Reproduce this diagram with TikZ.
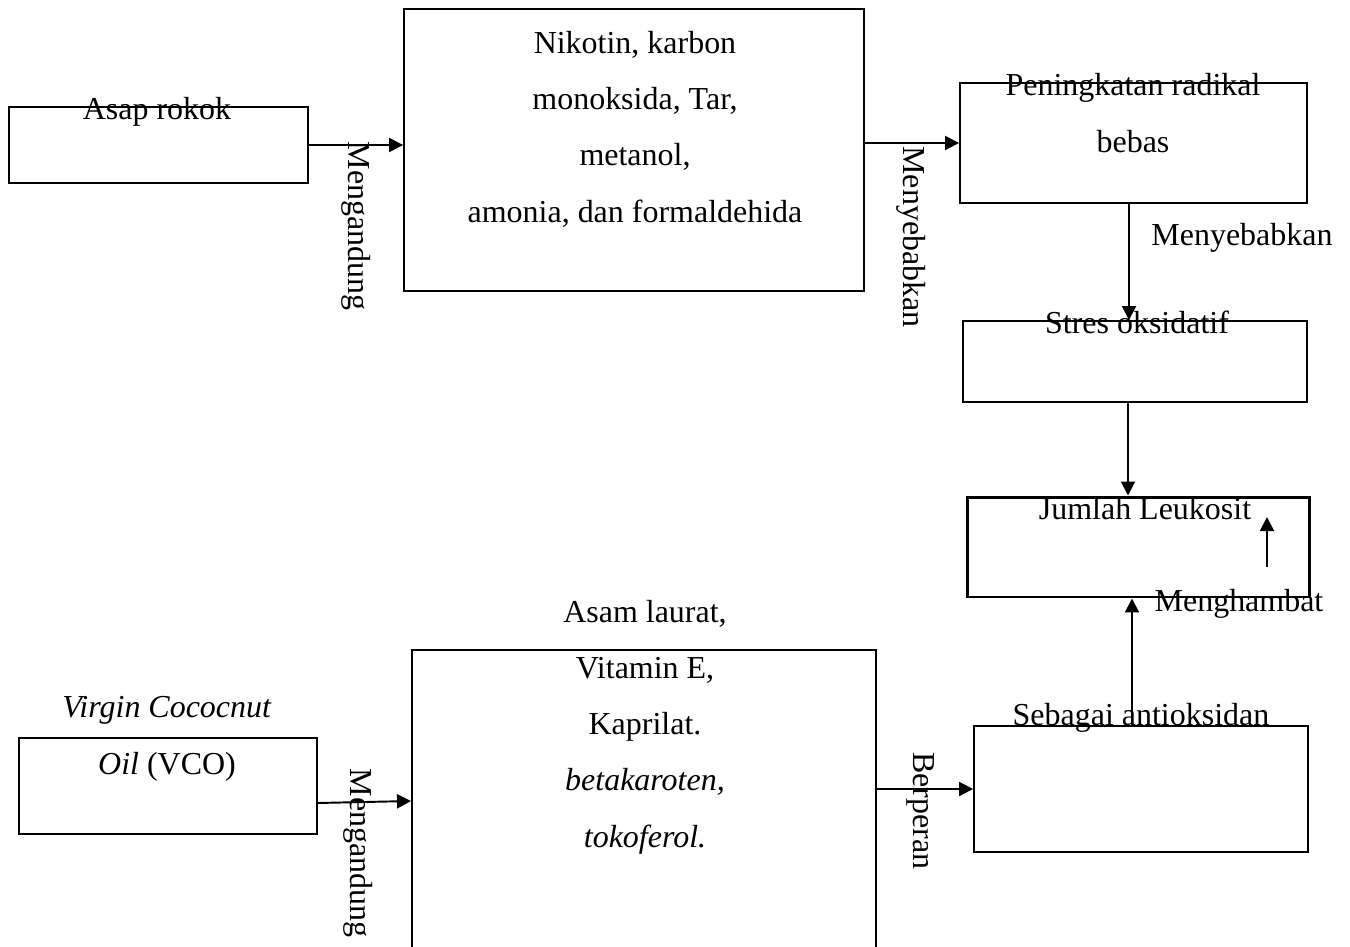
\documentclass[tikz,border=0pt]{standalone}
\usepackage{fontspec}
\setmainfont{Liberation Serif}
\usetikzlibrary{arrows.meta}

\tikzset{
    kotak/.style={draw, line width=1.1pt, inner sep=0pt},
    panah/.style={-{Triangle[length=0.28cm,width=0.28cm]}, line width=1.1pt},
    teks/.style={font=\fontsize{18.2}{31.9}\selectfont, inner sep=0pt, align=center, anchor=base},
    tegak/.style={font=\fontsize{18.2}{31.9}\selectfont, inner sep=0pt, rotate=-90}
}

\begin{document}
\begin{tikzpicture}[x=0.02cm, y=-0.02cm]
    \clip (0,0) rectangle (1350,947);

    % kotak-kotak
    \node [kotak, minimum width=5.98cm, minimum height=1.52cm] (asap) at (158.5,145) {};
    \node [kotak, minimum width=9.2cm, minimum height=5.64cm] (zat) at (634,150) {};
    \node [kotak, minimum width=6.94cm, minimum height=2.4cm] (radikal) at (1133.5,143) {};
    \node [kotak, minimum width=6.88cm, minimum height=1.62cm] (stres) at (1135,361.5) {};
    \node [kotak, line width=1.7pt, minimum width=6.86cm, minimum height=2cm] (leukosit) at (1138.5,547) {};
    \node [kotak, minimum width=5.96cm, minimum height=1.92cm] (vco) at (168,786) {};
    \node [kotak, minimum width=9.28cm, minimum height=6.6cm] (kandungan) at (644,815) {};
    \node [kotak, minimum width=6.68cm, minimum height=2.52cm] (antiox) at (1141,789) {};

    % tulisan (anchor base = baris terakhir)
    \node [teks] (tasap) at (157,119) {Asap rokok};
    \node [teks] (tzat) at (635,222) {Nikotin, karbon\\monoksida, Tar,\\metanol,\\amonia, dan formaldehida};
    \node [teks] (tradikal) at (1133,152) {Peningkatan radikal\\bebas};
    \node [teks] (tstres) at (1137,333) {Stres oksidatif};
    \node [teks] (tleukosit) at (1145,519) {Jumlah Leukosit};
    \node [teks] (thambat) at (1239,611) {Menghambat};
    \node [teks] (tsebab) at (1242,245) {Menyebabkan};
    \node [teks] (tvco) at (167,774) {\textit{Virgin Cococnut}\\\textit{Oil} (VCO)};
    \node [teks] (tkandungan) at (645,847) {Asam laurat,\\Vitamin E,\\Kaprilat.\\\textit{betakaroten,}\\\textit{tokoferol.}};
    \node [teks] (tantiox) at (1141,725) {Sebagai antioksidan};

    \node [tegak] (lbl1) at (356,226) {Mengandung};
    \node [tegak] (lbl2) at (911,237) {Menyebabkan};
    \node [tegak] (lbl3) at (358,853) {Mengandung};
    \node [tegak] (lbl4) at (921,811) {Berperan};

    % panah
    \draw [panah] (asap.east) -- (zat.west |- asap.east);
    \draw [panah] (zat.east |- radikal.west) -- (radikal.west);
    \draw [panah] ([xshift=-0.09cm]radikal.south) -- ([xshift=-0.09cm]radikal.south |- stres.north);
    \draw [panah] ([xshift=-0.14cm]stres.south) -- ([xshift=-0.14cm]stres.south |- leukosit.north);
    \draw [panah] ([xshift=-0.13cm]leukosit.south |- antiox.north) -- ([xshift=-0.13cm]leukosit.south);
    \draw [panah] ([yshift=-0.34cm]vco.east) -- ([yshift=0.28cm]kandungan.west);
    \draw [panah] (kandungan.east |- antiox.west) -- (antiox.west);
    \coordinate (naik0) at (1267,567);
    \coordinate (naik1) at (1267,517);
    \draw [panah] (naik0) -- (naik1);
\end{tikzpicture}
\end{document}
